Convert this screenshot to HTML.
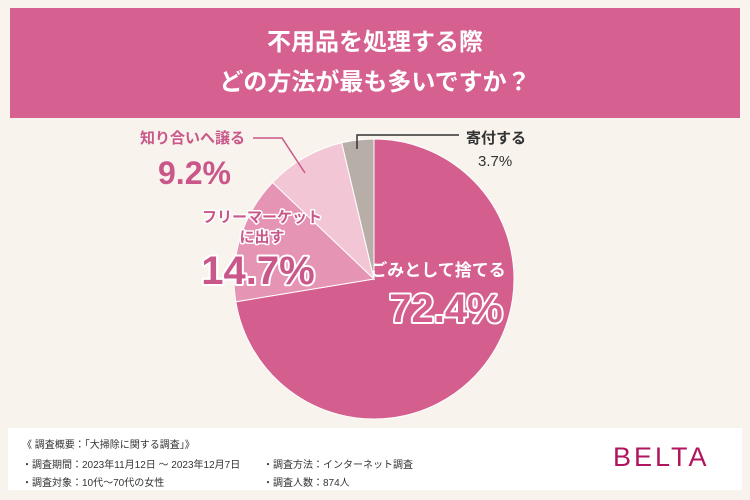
<!DOCTYPE html>
<html><head><meta charset="utf-8"><style>
body{margin:0;width:750px;height:500px;background:#f8f3ec;font-family:"Liberation Sans","Noto Sans CJK JP",sans-serif;position:relative;overflow:hidden}
.hdr{position:absolute;left:10px;top:8px;width:730px;height:110px;background:#d6608f;color:#fff;text-align:center;font-weight:bold;font-size:24px;line-height:40px;padding-top:15px;box-sizing:border-box}
.ft{position:absolute;left:8px;top:428px;width:734px;height:62px;background:#fff;font-size:10px;color:#333}
.ft div{position:absolute;white-space:nowrap}
</style></head><body>
<div class="hdr">不用品を処理する際<br>どの方法が最も多いですか？</div>
<svg id="c" width="750" height="420" style="position:absolute;left:0;top:0"></svg>
<div class="ft">
<div style="left:14px;top:8px">《 調査概要：「大掃除に関する調査」》</div>
<div style="left:14px;top:28px">・調査期間：2023年11月12日 ～ 2023年12月7日</div>
<div style="left:255px;top:28px">・調査方法：インターネット調査</div>
<div style="left:14px;top:46px">・調査対象：10代～70代の女性</div>
<div style="left:255px;top:46px">・調査人数：874人</div>
<div style="left:605px;top:14px;font-size:27px;color:#b0155e;letter-spacing:3px">BELTA</div>
</div>
<script>
const categories=["ごみとして捨てる","フリーマーケットに出す","知り合いへ譲る","寄付する"];
const values=[72.4,14.7,9.2,3.7];
const colors=["#d45f8e","#e594b4","#f3c6d6","#b7aea8"];
const svg=document.getElementById('c');const NS="http://www.w3.org/2000/svg";
const cx=374,cy=279,r=140;let total=values.reduce((a,b)=>a+b,0);let a0=0;
values.forEach((v,i)=>{const a1=a0+v/total*2*Math.PI;
const x0=cx+r*Math.sin(a0),y0=cy-r*Math.cos(a0),x1=cx+r*Math.sin(a1),y1=cy-r*Math.cos(a1);
const p=document.createElementNS(NS,'path');
p.setAttribute('d',`M${cx},${cy}L${x0},${y0}A${r},${r} 0 ${a1-a0>Math.PI?1:0} 1 ${x1},${y1}Z`);
p.setAttribute('fill',colors[i]);p.setAttribute('stroke','#fff');p.setAttribute('stroke-width','1');


svg.appendChild(p);a0=a1;});
function t(x,y,s,sz,fill,anchor,extra){const e=document.createElementNS(NS,'text');e.setAttribute('x',x);e.setAttribute('y',y);e.setAttribute('font-size',sz);e.setAttribute('fill',fill);e.setAttribute('font-weight','bold');e.setAttribute('text-anchor',anchor||'start');e.setAttribute('paint-order','stroke');e.setAttribute('stroke-linejoin','round');if(extra)for(const k in extra)e.setAttribute(k,extra[k]);e.textContent=s;


svg.appendChild(e);}
t(438,276,"ごみとして捨てる",17,"#fff","middle");
t(446,322,values[0]+"%",40,"#d45f8e","middle",{stroke:'#fff','stroke-width':'4'});
t(262,222,"フリーマーケット",15,"#c9578a","middle",{stroke:'#fff','stroke-width':'3'});
t(262,242,"に出す",15,"#c9578a","middle",{stroke:'#fff','stroke-width':'3'});
t(258,284,values[1]+"%",40,"#c9578a","middle",{stroke:'#fff','stroke-width':'4'});
t(140,143,"知り合いへ譲る",15,"#c9578a","start");
t(158,184,values[2]+"%",32,"#c9578a","start");
t(466,143,"寄付する",15,"#333","start");
t(478,166,values[3]+"%",15,"#333","start",{'font-weight':'normal'});
const l=document.createElementNS(NS,'path');l.setAttribute('d','M253,138H282L305,173');l.setAttribute('stroke','#c9578a');l.setAttribute('fill','none');l.setAttribute('stroke-width','1.5');


svg.appendChild(l);
const l2=document.createElementNS(NS,'path');l2.setAttribute('d','M357,149V135H459');l2.setAttribute('stroke','#333');l2.setAttribute('fill','none');l2.setAttribute('stroke-width','1.5');


svg.appendChild(l2);
</script>
</body></html>
